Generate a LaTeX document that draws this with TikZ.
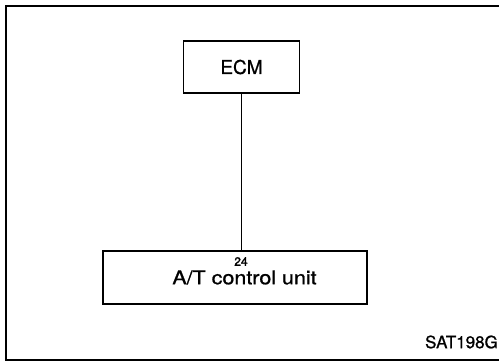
\documentclass[tikz,border=0pt]{standalone}
\usepackage{fontspec}
\setmainfont[FakeBold=0.9]{TeX Gyre Heros}
\newfontfamily\pinfont[FakeBold=1.6]{TeX Gyre Heros}
\tikzset{
  unitbox/.style={draw, line width=1.5pt, inner sep=0pt},
  wire/.style={line width=0.9pt},
  frame/.style={line width=1.4pt}
}
\begin{document}
\begin{tikzpicture}[x=1pt,y=-1pt]
\useasboundingbox (0,0) rectangle (499,362);
\draw[frame] (499.5,6) -- (6,6) -- (6,360) -- (499.5,360);
\node[unitbox, minimum width=116pt, minimum height=52pt, font=\fontsize{19}{22}\selectfont] (ecm) at (241.5,67) {ECM};
\node[unitbox, minimum width=264pt, minimum height=53pt, font=\fontsize{19}{22}\selectfont] (atcu) at (235,277.5)
  {\hspace*{19pt}\raisebox{-5pt}{\scalebox{1.13}[1]{A/T control unit}}};
\node[font=\pinfont\fontsize{12}{14}\selectfont, inner sep=0pt] (pin) at (241,261.5) {24};
\node[font=\fontsize{17}{20}\selectfont, anchor=east, inner sep=0pt] (code) at (498,342) {SAT198G};
\draw[wire] (ecm.south) -- (ecm.south |- atcu.north);
\end{tikzpicture}
\end{document}
